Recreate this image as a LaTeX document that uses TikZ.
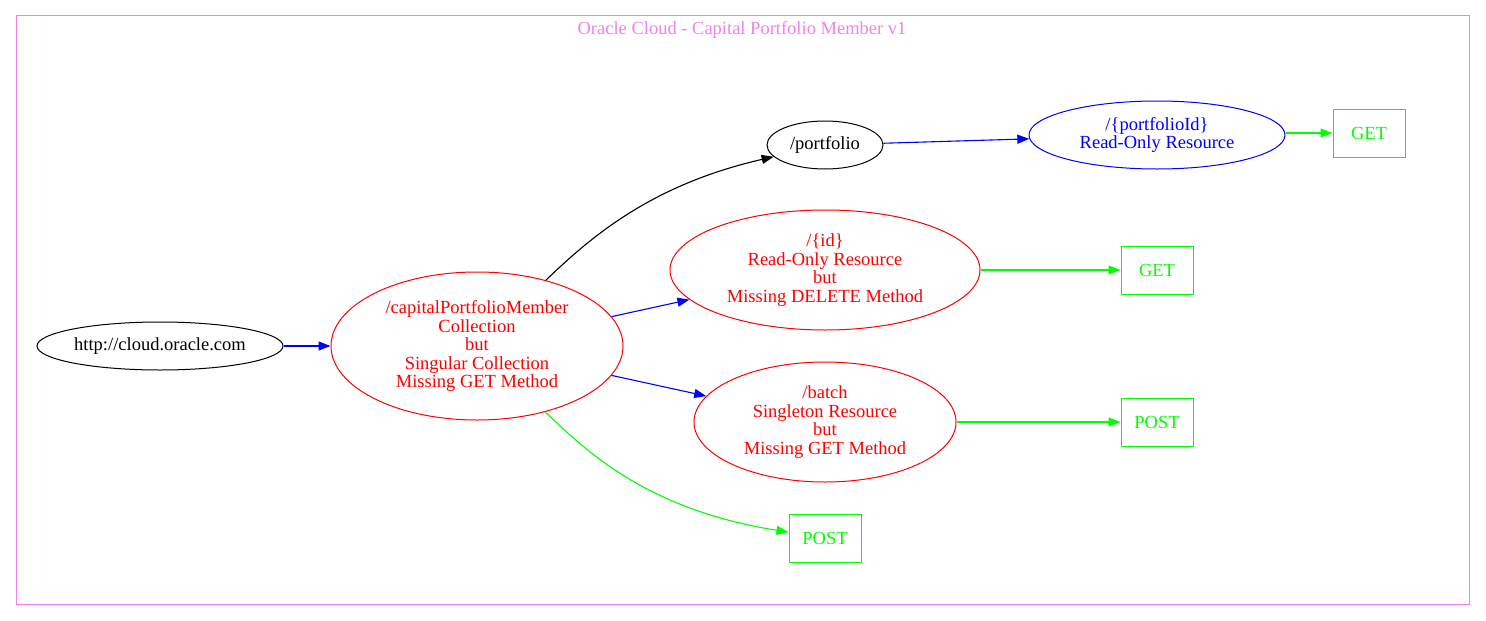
\documentclass[tikz,border=0pt]{standalone}
\usepackage{fontspec}
\setmainfont{Liberation Serif}
\usetikzlibrary{arrows.meta,shapes.geometric}
\definecolor{gvred}{RGB}{255,0,0}
\definecolor{gvblue}{RGB}{0,0,255}
\definecolor{gvgreen}{RGB}{0,255,0}
\definecolor{gvviolet}{RGB}{238,130,238}
\tikzset{
  base/.style={inner sep=0pt, line width=1pt, align=center,
    font=\fontsize{18.5}{18.5}\selectfont},
  ell/.style={base, ellipse, draw},
  box/.style={base, rectangle, draw=gvgreen, text=gvgreen, minimum width=72pt, minimum height=48pt},
  conn/.style={line width=1.1pt, -{Triangle[length=12pt,width=9pt]}},
}
\begin{document}
\begin{tikzpicture}[x=1pt,y=-1pt]
\useasboundingbox (0,0) rectangle (1486,621);
\draw[gvviolet, line width=1pt] (16,15) rectangle (1469,604);
\node[base, text=gvviolet] (title) at (742,30) {Oracle Cloud - Capital Portfolio Member v1};

\node[ell, draw=black, minimum width=246pt, minimum height=48pt] (http) at (160,346) {http://cloud.oracle.com};
\node[ell, draw=gvred, text=gvred, minimum width=292pt, minimum height=148pt] (cap) at (477,346)
  {/capitalPortfolioMember\\Collection\\but\\Singular Collection\\Missing GET Method};
\node[ell, draw=black, minimum width=116pt, minimum height=48pt] (port) at (825,145) {/portfolio};
\node[ell, draw=gvblue, text=gvblue, minimum width=256pt, minimum height=68pt] (pid) at (1157,135)
  {/\{portfolioId\}\\Read-Only Resource};
\node[box] (get1) at (1369,133) {GET};
\node[ell, draw=gvred, text=gvred, minimum width=310pt, minimum height=120pt] (id) at (825,270)
  {/\{id\}\\Read-Only Resource\\but\\Missing DELETE Method};
\node[box] (get2) at (1157,270) {GET};
\node[ell, draw=gvred, text=gvred, minimum width=262pt, minimum height=120pt] (batch) at (825,422)
  {/batch\\Singleton Resource\\but\\Missing GET Method};
\node[box] (post1) at (1157,422) {POST};
\node[box] (post2) at (825,538) {POST};

\draw[conn, gvblue] (http) -- (cap);
\draw[conn, black] (cap) .. controls (590,238) and (650,185) .. (port);
\draw[conn, gvblue] (cap) -- (id);
\draw[conn, gvblue] (cap) -- (batch);
\draw[conn, gvgreen] (cap) .. controls (590,455) and (650,510) .. (post2);
\draw[conn, gvblue] (port) -- (pid);
\draw[conn, gvgreen] (pid.east |- get1.west) -- (get1.west);
\draw[conn, gvgreen] (id) -- (get2);
\draw[conn, gvgreen] (batch) -- (post1);
\end{tikzpicture}
\end{document}
